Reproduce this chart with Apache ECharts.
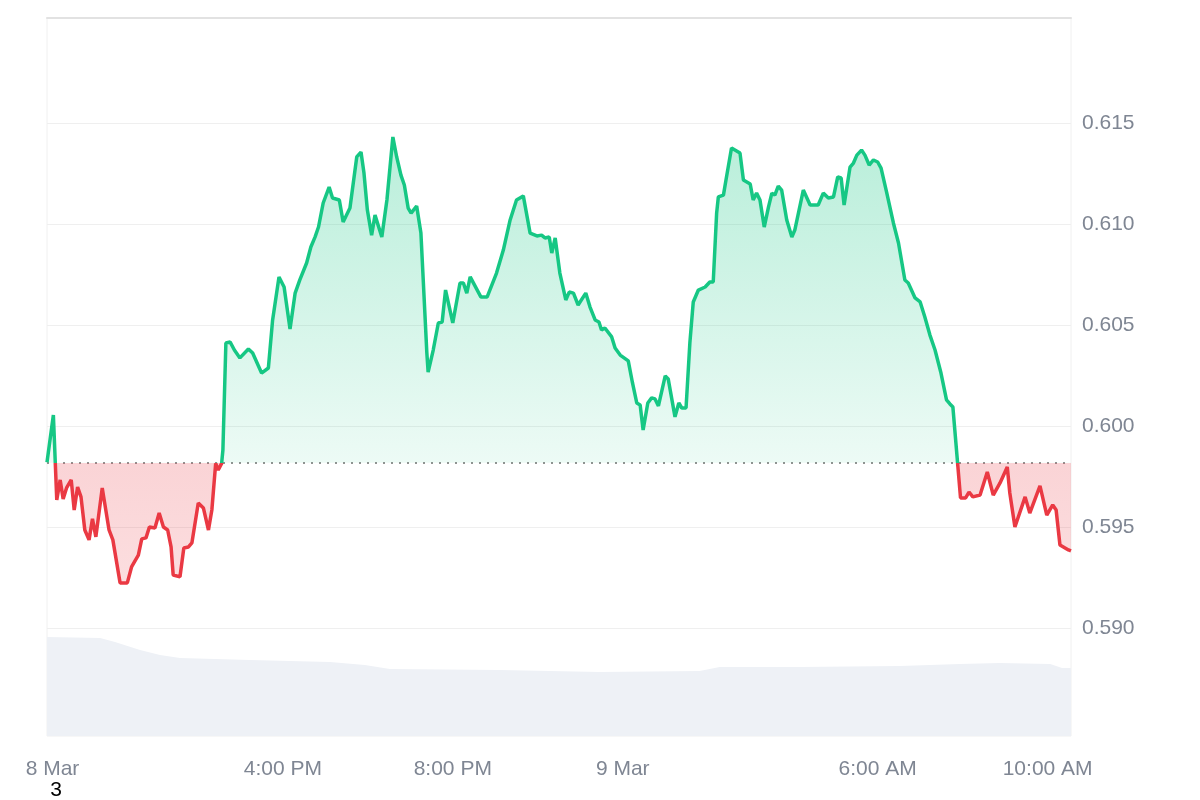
<!DOCTYPE html>
<html><head><meta charset="utf-8">
<script src="https://cdn.jsdelivr.net/npm/echarts@6/dist/echarts.min.js"></script>
<style>html,body{margin:0;padding:0;background:#fff}#c{width:1200px;height:800px}</style>
</head><body><div id="c"></div>
<script>
// time in clock hours counted from 8 Mar 00:00
const times = [
10.45,10.60,10.68,10.76,10.83,10.91,11.02,11.09,11.17,11.25,
11.34,11.44,11.52,11.60,11.75,11.91,12.00,12.17,12.34,12.44,
12.60,12.68,12.78,12.86,12.99,13.09,13.19,13.29,13.37,13.42,
13.58,13.67,13.78,13.86,14.01,14.13,14.25,14.33,14.42,14.48,
14.56,14.59,14.66,14.76,14.86,14.99,15.19,15.29,15.50,15.66,
15.76,15.91,16.03,16.17,16.29,16.40,16.56,16.66,16.76,16.84,
16.95,17.09,17.17,17.33,17.42,17.58,17.74,17.84,17.91,17.99,
18.09,18.17,18.33,18.45,18.59,18.68,18.78,18.86,18.95,19.02,
19.15,19.25,19.39,19.42,19.54,19.66,19.75,19.83,20.00,20.17,
20.25,20.33,20.41,20.66,20.81,21.03,21.19,21.35,21.50,21.66,
21.82,21.98,22.09,22.17,22.27,22.33,22.41,22.52,22.66,22.74,
22.84,22.95,23.13,23.23,23.35,23.44,23.50,23.58,23.74,23.82,
23.94,24.13,24.23,24.33,24.41,24.48,24.59,24.68,24.76,24.84,
25.00,25.07,25.23,25.32,25.39,25.49,25.58,25.66,25.78,25.94,
26.05,26.13,26.21,26.25,26.37,26.43,26.56,26.76,26.84,27.00,
27.07,27.15,27.23,27.33,27.43,27.51,27.58,27.66,27.74,27.86,
27.98,28.05,28.25,28.41,28.60,28.72,28.84,28.96,29.06,29.14,
29.21,29.35,29.43,29.51,29.62,29.70,29.80,29.90,30.00,30.08,
30.21,30.37,30.49,30.64,30.72,30.88,31.00,31.11,31.23,31.35,
31.49,31.62,31.70,31.77,
31.95,32.07,32.15,32.24,32.41,
32.58,32.72,32.88,33.05,33.11,33.23,33.47,33.58,33.82,33.98,
34.12,34.20,34.29,34.49,34.55
];
const prices = [
0.59820,0.60054,0.59634,0.59733,0.59639,0.59693,0.59733,0.59584,0.59698,0.59649,
0.59485,0.59436,0.59540,0.59451,0.59693,0.59485,0.59436,0.59223,0.59223,0.59302,
0.59361,0.59441,0.59446,0.59500,0.59495,0.59569,0.59500,0.59485,0.59401,0.59262,
0.59253,0.59396,0.59401,0.59421,0.59619,0.59594,0.59485,0.59584,0.59815,0.59782,
0.59815,0.59881,0.60411,0.60416,0.60376,0.60337,0.60381,0.60361,0.60262,0.60287,
0.60525,0.60738,0.60688,0.60480,0.60658,0.60723,0.60807,0.60886,0.60936,0.60985,
0.61104,0.61183,0.61129,0.61119,0.61010,0.61079,0.61332,0.61356,0.61252,0.61069,
0.60945,0.61044,0.60936,0.61119,0.61431,0.61332,0.61242,0.61193,0.61079,0.61054,
0.61089,0.60955,0.60361,0.60267,0.60376,0.60510,0.60515,0.60673,0.60510,0.60708,
0.60708,0.60658,0.60738,0.60639,0.60639,0.60757,0.60871,0.61020,0.61119,0.61139,
0.60955,0.60941,0.60945,0.60931,0.60936,0.60856,0.60931,0.60757,0.60624,0.60663,
0.60658,0.60599,0.60658,0.60589,0.60525,0.60515,0.60475,0.60485,0.60441,0.60386,
0.60351,0.60322,0.60213,0.60114,0.60104,0.59980,0.60114,0.60139,0.60134,0.60099,
0.60248,0.60233,0.60045,0.60114,0.60089,0.60089,0.60411,0.60614,0.60673,0.60688,
0.60713,0.60713,0.61054,0.61134,0.61143,0.61218,0.61376,0.61351,0.61218,0.61198,
0.61119,0.61153,0.61119,0.60985,0.61084,0.61153,0.61143,0.61188,0.61168,0.61020,
0.60936,0.60970,0.61168,0.61094,0.61094,0.61153,0.61129,0.61134,0.61233,0.61228,
0.61094,0.61282,0.61302,0.61341,0.61366,0.61341,0.61292,0.61317,0.61307,0.61277,
0.61158,0.61005,0.60906,0.60723,0.60708,0.60634,0.60614,0.60540,0.60450,0.60376,
0.60262,0.60129,0.60109,0.60094,
0.59644,0.59644,0.59673,0.59649,0.59658,
0.59772,0.59658,0.59718,0.59797,0.59668,0.59500,0.59649,0.59569,0.59703,0.59559,
0.59609,0.59584,0.59411,0.59386,0.59381
];
const baseline = 0.59818;

const volTimes = [10.45,11.70,12.05,12.64,13.11,13.58,15.23,17.11,17.93,18.52,21.11,23.46,25.81,26.28,28.16,30.52,31.93,32.87,34.06,34.34,34.55];
const volumes  = [13.79,13.65,13.09,11.98,11.28,10.86,10.58,10.31,9.89,9.33,9.19,8.91,9.05,9.61,9.61,9.75,10.03,10.17,10.03,9.47,9.47];

const yTicks = [0.590,0.595,0.600,0.605,0.610,0.615];
const xTickValues = [10.58,16,20,24,30,34];
const xTickLabels = ['8 Mar','4:00 PM','8:00 PM','9 Mar','6:00 AM','10:00 AM'];

const priceData = times.map((t,i)=>[t,prices[i]]);
const volData = volTimes.map((t,i)=>[t,volumes[i]]);
const maxP = Math.max(...prices), minP = Math.min(...prices);
const frac = (maxP - baseline)/(maxP - minP);

const FONT = 'Liberation Sans';
const LABEL = '#7f8693';
const FS = 21;
const chart = echarts.init(document.getElementById('c'), null, {renderer:'canvas'});
chart.setOption({
  animation:false,
  backgroundColor:'#ffffff',
  textStyle:{fontFamily:FONT},
  grid:{left:47,right:129,top:18,bottom:64,show:true,borderColor:'#f0f0f0',borderWidth:1,backgroundColor:'transparent'},
  xAxis:[{
    type:'value',min:10.45,max:34.55,
    axisLine:{show:false},axisTick:{show:false},splitLine:{show:false},
    axisLabel:{customValues:xTickValues,margin:23,color:LABEL,fontSize:FS,fontFamily:FONT,
      formatter:(v)=>{const i=xTickValues.findIndex(t=>Math.abs(t-v)<1e-6);return i>=0?xTickLabels[i]:'';}}
  },{
    type:'value',position:'top',min:10.45,max:34.55,
    axisLine:{show:true,lineStyle:{color:'#e2e2e2',width:2}},axisTick:{show:false},axisLabel:{show:false},splitLine:{show:false}
  }],
  yAxis:[{
    type:'value',position:'right',min:0.58465,max:0.6202,
    axisLine:{show:false},axisTick:{show:false},splitLine:{show:false},
    axisLabel:{customValues:yTicks,margin:11,color:LABEL,fontSize:FS,fontFamily:FONT,formatter:(v)=>v.toFixed(3)}
  },{
    type:'value',min:0,max:100,show:false,splitLine:{show:false}
  }],
  visualMap:{show:false,type:'piecewise',seriesIndex:1,dimension:1,
    pieces:[{gt:baseline,lte:10,color:'#16c784'},{gte:0,lte:baseline,color:'#ea3943'}]},
  series:[{
    type:'line',name:'volume',xAxisIndex:0,yAxisIndex:1,data:volData,symbol:'none',z:1,silent:true,
    lineStyle:{width:0},itemStyle:{color:'#eef1f6'},
    areaStyle:{color:'#eef1f6',opacity:1}
  },{
    type:'line',name:'price',xAxisIndex:0,yAxisIndex:0,data:priceData,symbol:'none',z:2,silent:true,
    lineStyle:{width:3.5},
    areaStyle:{origin:baseline,opacity:1,color:new echarts.graphic.LinearGradient(0,0,0,1,[
      {offset:0,color:'rgba(22,199,132,0.30)'},
      {offset:frac,color:'rgba(22,199,132,0.08)'},
      {offset:frac,color:'rgba(234,57,67,0.22)'},
      {offset:1,color:'rgba(234,57,67,0.17)'}
    ])},
    markLine:{silent:true,symbol:'none',z:1,precision:6,label:{show:false},animation:false,
      data:[{yAxis:baseline,lineStyle:{type:[2,6],color:'#6f6f6f',width:1.5}}]
        .concat(yTicks.map(v=>({yAxis:v,lineStyle:{type:'solid',color:'#efefef',width:1}})))}
  }],
  graphic:[{type:'text',x:56,y:790,style:{text:'3',fill:'#000',font:'21px "Liberation Sans"',textAlign:'center',textVerticalAlign:'middle'}}]
});
</script></body></html>
